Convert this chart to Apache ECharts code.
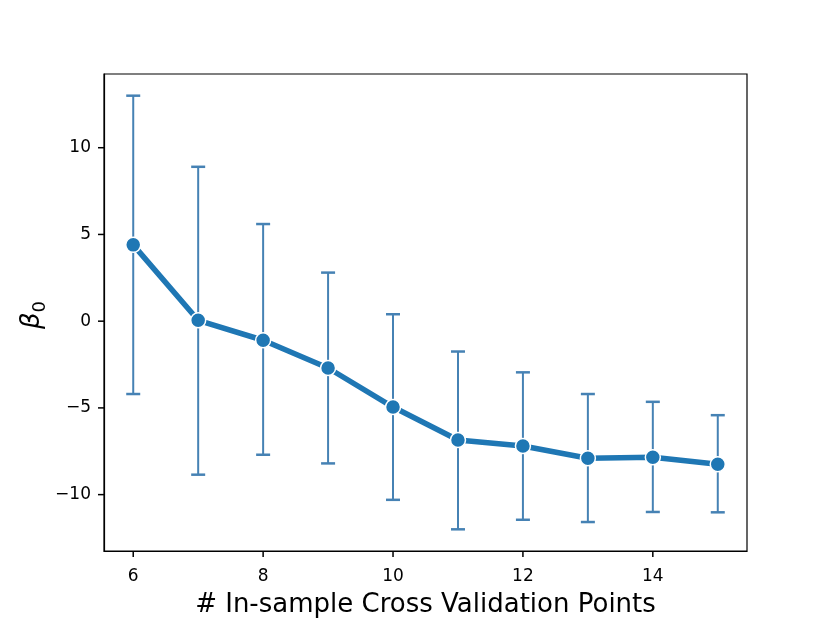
<!DOCTYPE html>
<html>
<head>
<meta charset="utf-8">
<script src="https://cdn.jsdelivr.net/npm/echarts@6/dist/echarts.min.js"></script>
<style>html,body{margin:0;padding:0;background:#fff}#c{width:830px;height:623px}</style>
</head>
<body>
<div id="c"></div>
<script>
const points = [6, 7, 8, 9, 10, 11, 12, 13, 14, 15];
const beta0 = [4.4, 0.05, -1.1, -2.7, -4.95, -6.85, -7.2, -7.9, -7.85, -8.25];
const upper = [13.0, 8.9, 5.6, 2.8, 0.4, -1.75, -2.95, -4.2, -4.65, -5.42];
const lower = [-4.2, -8.85, -7.7, -8.2, -10.3, -12.0, -11.45, -11.58, -11.0, -11.02];
const xTicks = [6, 8, 10, 12, 14];
const yTicks = [-10, -5, 0, 5, 10];
const xMin = 5.55, xMax = 15.45, yMin = -13.25, yMax = 14.25;

const chart = echarts.init(document.getElementById('c'));
const fmt = v => String(v).replace('-', '\u2212');
const errData = points.map((x, i) => [x, lower[i], upper[i]]);
const lineData = points.map((x, i) => [x, beta0[i]]);
const xTickData = xTicks.map(v => [v, yMin]);
const yTickData = yTicks.map(v => [xMin, v]);

const yLabel = {
  type: 'text', x: 32, y: 315, rotation: Math.PI / 2,
  style: {
    text: '{b|β}{s|0}', align: 'center', verticalAlign: 'middle',
    rich: {
      b: { fontSize: 26, fontStyle: 'italic', fontFamily: 'DejaVu Sans', fill: '#000', verticalAlign: 'bottom' },
      s: { fontSize: 18, fontFamily: 'DejaVu Sans', fill: '#000', verticalAlign: 'bottom', padding: [0, 0, -4, 0] }
    }
  }
};

chart.setOption({
  animation: false,
  backgroundColor: '#fff',
  grid: { left: 104, right: 83, top: 74, bottom: 69, show: true, borderColor: '#000', borderWidth: 1.2, backgroundColor: 'transparent' },
  xAxis: {
    type: 'value', min: xMin, max: xMax,
    axisLine: { show: true, onZero: false, lineStyle: { color: '#000', width: 1.2 } },
    axisTick: { show: false },
    axisLabel: { customValues: xTicks, color: '#000', fontSize: 17, fontFamily: 'DejaVu Sans', margin: 17 },
    splitLine: { show: false },
    name: '# In-sample Cross Validation Points', nameLocation: 'middle', nameGap: 41,
    nameTextStyle: { color: '#000', fontSize: 26, fontFamily: 'DejaVu Sans' }
  },
  yAxis: {
    type: 'value', min: yMin, max: yMax,
    axisLine: { show: true, onZero: false, lineStyle: { color: '#000', width: 1.2 } },
    axisTick: { show: false },
    axisLabel: { customValues: yTicks, color: '#000', fontSize: 17, fontFamily: 'DejaVu Sans', margin: 13, formatter: fmt },
    splitLine: { show: false }
  },
  graphic: [yLabel],
  series: [{
    type: 'scatter', z: 10, clip: false, silent: true, data: xTickData,
    symbol: 'rect', symbolSize: [1.5, 6], symbolOffset: [0, 3],
    itemStyle: { color: '#000', opacity: 1 }
  }, {
    type: 'scatter', z: 10, clip: false, silent: true, data: yTickData,
    symbol: 'rect', symbolSize: [6, 1.5], symbolOffset: [-3, 0],
    itemStyle: { color: '#000', opacity: 1 }
  }, {
    type: 'custom', z: 1, data: errData,
    renderItem: (params, api) => {
      const x = api.value(0);
      const lo = api.coord([x, api.value(1)]);
      const hi = api.coord([x, api.value(2)]);
      const c = 7;
      const st = { stroke: '#4682b4', lineWidth: 2 };
      const cap = { stroke: '#4682b4', lineWidth: 2.5 };
      return { type: 'group', children: [
        { type: 'line', shape: { x1: lo[0], y1: lo[1], x2: hi[0], y2: hi[1] }, style: st },
        { type: 'line', shape: { x1: hi[0] - c, y1: hi[1], x2: hi[0] + c, y2: hi[1] }, style: cap },
        { type: 'line', shape: { x1: lo[0] - c, y1: lo[1], x2: lo[0] + c, y2: lo[1] }, style: cap }
      ]};
    }
  }, {
    type: 'line', z: 3, data: lineData,
    symbol: 'circle', symbolSize: 15,
    lineStyle: { color: '#1f77b4', width: 5.5 },
    itemStyle: { color: '#1f77b4', borderColor: '#fff', borderWidth: 1.5 }
  }]
});
</script>
</body>
</html>
